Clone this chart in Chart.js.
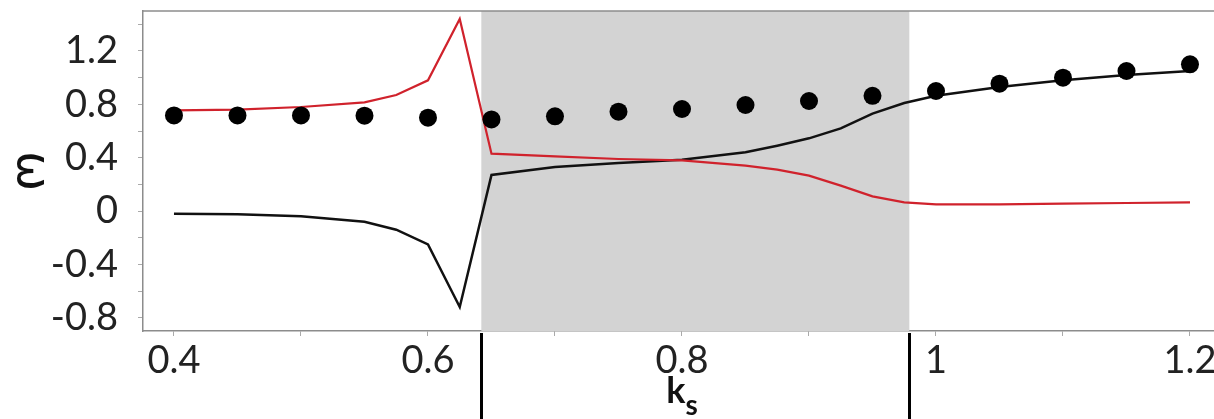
<!DOCTYPE html>
<html>
<head>
<meta charset="utf-8">
<script src="https://cdn.jsdelivr.net/npm/chart.js"></script>
<style>
  html, body { margin: 0; padding: 0; background: #fff; overflow: hidden; }
  #wrap { width: 1214px; height: 419px; position: relative; }
</style>
</head>
<body>
<div id="wrap"><canvas id="c" width="1214" height="419"></canvas></div>
<script>
// ---- data ----
const lineX   = [0.4, 0.45, 0.5, 0.55, 0.575, 0.6, 0.625, 0.65, 0.7, 0.75, 0.8, 0.85, 0.875, 0.9, 0.925, 0.95, 0.975, 1.0, 1.05, 1.1, 1.15, 1.2];
const blackY  = [-0.02, -0.025, -0.04, -0.08, -0.14, -0.25, -0.72, 0.27, 0.33, 0.36, 0.385, 0.44, 0.49, 0.545, 0.62, 0.73, 0.81, 0.865, 0.93, 0.98, 1.02, 1.05];
const redY    = [0.755, 0.76, 0.78, 0.815, 0.87, 0.98, 1.44, 0.43, 0.41, 0.39, 0.38, 0.34, 0.31, 0.265, 0.19, 0.11, 0.065, 0.05, 0.05, 0.055, 0.06, 0.065];
const dotX    = [0.4, 0.45, 0.5, 0.55, 0.6, 0.65, 0.7, 0.75, 0.8, 0.85, 0.9, 0.95, 1.0, 1.05, 1.1, 1.15, 1.2];
const dotY    = [0.717, 0.717, 0.717, 0.715, 0.70, 0.687, 0.71, 0.745, 0.765, 0.795, 0.825, 0.864, 0.90, 0.955, 1.0, 1.05, 1.10];
const shadeRange = [0.642, 0.979];
const xTickValues = [0.4, 0.5, 0.6, 0.7, 0.8, 0.9, 1.0, 1.1, 1.2];
const xTickLabels = ['0.4', '', '0.6', '', '0.8', '', '1', '', '1.2'];
const yTickValues = [-0.8, -0.6, -0.4, -0.2, 0, 0.2, 0.4, 0.6, 0.8, 1.0, 1.2, 1.4];
const yTickLabels = ['-0.8', '', '-0.4', '', '0', '', '0.4', '', '0.8', '', '1.2', ''];
const xTitle = 'k';
const xTitleSub = 's';
const yTitle = 'ω';

const toXY = (xs, ys) => xs.map((x, i) => ({ x: x, y: ys[i] }));

const TICK_FONT = { family: 'Lato', size: 38, weight: 'normal' };

const zeroPad = s => { s.paddingLeft = 0; s.paddingRight = 0; s.paddingTop = 0; s.paddingBottom = 0; };

const decor = {
  id: 'decor',
  beforeDatasetsDraw(chart) {
    const { ctx, chartArea: a, scales: { x } } = chart;
    const x0 = x.getPixelForValue(shadeRange[0]);
    const x1 = x.getPixelForValue(shadeRange[1]);
    ctx.save();
    ctx.fillStyle = '#d3d3d3';
    ctx.fillRect(x0, a.top, x1 - x0, a.bottom - a.top);
    ctx.restore();
  },
  afterDraw(chart) {
    const { ctx, chartArea: a, scales: { x } } = chart;
    ctx.save();
    // top frame line
    ctx.strokeStyle = '#8c8c8c';
    ctx.lineWidth = 1.5;
    ctx.beginPath();
    ctx.moveTo(a.left, a.top);
    ctx.lineTo(a.right, a.top);
    ctx.stroke();
    // vertical markers below the axis
    ctx.strokeStyle = '#000';
    ctx.lineWidth = 3;
    shadeRange.forEach(v => {
      const px = Math.round(x.getPixelForValue(v)) + 0.5;
      ctx.beginPath();
      ctx.moveTo(px, a.bottom + 2);
      ctx.lineTo(px, chart.height);
      ctx.stroke();
    });
    // y title
    ctx.fillStyle = '#111';
    ctx.textAlign = 'center';
    ctx.textBaseline = 'middle';
    ctx.save();
    ctx.translate(30, (a.top + a.bottom) / 2);
    ctx.rotate(Math.PI / 2);
    ctx.font = '48px "DejaVu Sans"';
    ctx.fillText(yTitle, 0, 0);
    ctx.restore();
    // x title with subscript
    ctx.textBaseline = 'alphabetic';
    ctx.textAlign = 'left';
    ctx.font = 'bold 36px Lato';
    const kw = ctx.measureText(xTitle).width;
    ctx.font = 'bold 28px Lato';
    const sw = ctx.measureText(xTitleSub).width;
    const cx = x.getPixelForValue(0.8);
    const start = cx - (kw + sw) / 2;
    ctx.font = 'bold 36px Lato';
    ctx.fillText(xTitle, start, 403);
    ctx.font = 'bold 28px Lato';
    ctx.fillText(xTitleSub, start + kw, 415);
    ctx.restore();
  }
};

new Chart(document.getElementById('c'), {
  type: 'scatter',
  data: {
    datasets: [
      {
        label: 'dots',
        data: toXY(dotX, dotY),
        showLine: false,
        pointRadius: 9,
        pointHoverRadius: 9,
        backgroundColor: '#000',
        borderColor: '#000',
        borderWidth: 0
      },
      {
        label: 'red',
        data: toXY(lineX, redY),
        showLine: true,
        pointRadius: 0,
        borderColor: '#d0222c',
        borderWidth: 2.2,
        tension: 0
      },
      {
        label: 'black',
        data: toXY(lineX, blackY),
        showLine: true,
        pointRadius: 0,
        borderColor: '#111',
        borderWidth: 2.5,
        tension: 0
      }
    ]
  },
  options: {
    responsive: false,
    devicePixelRatio: 1,
    animation: false,
    layout: { autoPadding: false, padding: { top: 11, right: 0, left: 0, bottom: 0 } },
    plugins: { legend: { display: false }, tooltip: { enabled: false } },
    scales: {
      x: {
        type: 'linear',
        min: 0.3756,
        max: 1.2189,
        afterFit: s => { s.height = 88; zeroPad(s); },
        afterBuildTicks: s => { s.ticks = xTickValues.map(v => ({ value: v })); },
        ticks: {
          font: TICK_FONT,
          color: '#222',
          padding: 2,
          maxRotation: 0,
          autoSkip: false,
          callback: (v, i) => xTickLabels[i]
        },
        grid: { drawOnChartArea: false, drawTicks: true, tickLength: 5, color: '#aaa' },
        border: { display: true, color: '#8c8c8c', width: 1.5 }
      },
      y: {
        type: 'linear',
        min: -0.9,
        max: 1.5,
        afterFit: s => { s.width = 143; zeroPad(s); },
        afterBuildTicks: s => { s.ticks = yTickValues.map(v => ({ value: v })); },
        ticks: {
          font: TICK_FONT,
          color: '#222',
          padding: 20,
          autoSkip: false,
          callback: (v, i) => yTickLabels[i]
        },
        grid: { drawOnChartArea: false, drawTicks: true, tickLength: 5, color: '#aaa' },
        border: { display: true, color: '#8c8c8c', width: 1.5 }
      }
    }
  },
  plugins: [decor]
});
</script>
</body>
</html>
